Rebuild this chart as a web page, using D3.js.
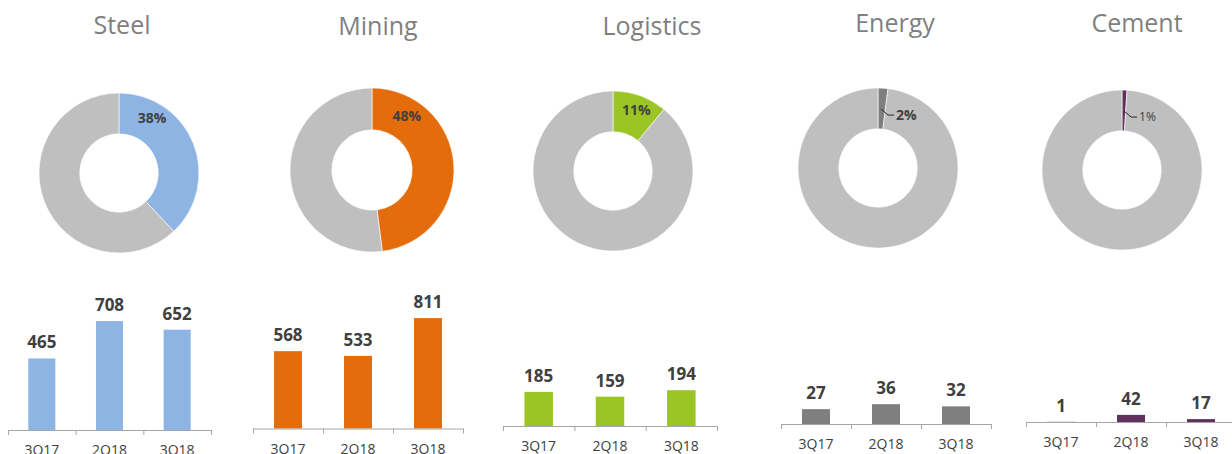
<!DOCTYPE html>
<html>
<head>
<meta charset="utf-8">
<script src="https://cdn.jsdelivr.net/npm/d3@7"></script>
<style>
    html, body { margin: 0; padding: 0; background: #fff; }
    svg { display: block; font-family: 'Open Sans', 'Noto Sans', sans-serif; }
    .title { fill: #7f7f7f; font-size: 25px; }
    .pct { fill: #404040; font-size: 14px; font-weight: bold; }
    .val { fill: #404040; font-size: 17px; font-weight: bold; }
    .cat { fill: #404040; font-size: 14px; }
    .axis-line { stroke: #a6a6a6; stroke-width: 1; }
</style>
</head>
<body>
<div id="chart"></div>
<script>
// data
const sectors = ['Steel', 'Mining', 'Logistics', 'Energy', 'Cement'];
const shares = [38, 48, 11, 2, 1];
const quarters = ['3Q17', '2Q18', '3Q18'];
const steelValues = [465, 708, 652];
const miningValues = [568, 533, 811];
const logisticsValues = [185, 159, 194];
const energyValues = [27, 36, 32];
const cementValues = [1, 42, 17];
const sectorValues = [steelValues, miningValues, logisticsValues, energyValues, cementValues];

const colors = ['#8db4e2', '#e46c0a', '#9ac524', '#7f7f7f', '#60305f'];
const restColor = '#bfbfbf';

// layout per panel (positions only)
const layout = [
    { tx: 122, ty: 34, cx: 119, cy: 173, r: 80, la: 31, lr: 64, leader: false, x0: 8, x1: 211, base: 430, yMax: 845 },
    { tx: 378, ty: 35, cx: 372, cy: 170, r: 82, la: 33, lr: 64, leader: false, x0: 253, x1: 463, base: 428.5, yMax: 955 },
    { tx: 652, ty: 35, cx: 613, cy: 171, r: 80, la: 21, lr: 65, leader: false, x0: 503, x1: 717, base: 426, yMax: 705 },
    { tx: 895, ty: 32, cx: 878, cy: 168, r: 80, la: 3, lr: 59, leader: true, x0: 781, x1: 991, base: 424, yMax: 236 },
    { tx: 1137, ty: 32, cx: 1122, cy: 170, r: 80, la: 2, lr: 59, leader: true, x0: 1026, x1: 1236, base: 422, yMax: 765 }
];

const width = 1232;
const height = 454;

const svg = d3.select('#chart')
    .append('svg')
    .attr('width', width)
    .attr('height', height);

const pie = d3.pie().sort(null).value(d => d).startAngle(0).endAngle(2 * Math.PI);

sectors.forEach((name, i) => {
    const L = layout[i];
    const g = svg.append('g').attr('class', 'panel');

    g.append('text')
        .attr('class', 'title')
        .attr('x', L.tx)
        .attr('y', L.ty)
        .attr('text-anchor', 'middle')
        .text(name);

    // donut
    const arc = d3.arc().innerRadius(L.r * 0.49).outerRadius(L.r);
    const donut = g.append('g').attr('transform', `translate(${L.cx},${L.cy})`);
    donut.selectAll('path')
        .data(pie([shares[i], 100 - shares[i]]))
        .join('path')
        .attr('d', arc)
        .attr('fill', (d, j) => j === 0 ? colors[i] : restColor)
        .attr('stroke', '#fff')
        .attr('stroke-width', 0.6);

    const a = L.la * Math.PI / 180;
    const px = Math.sin(a) * L.lr;
    const py = -Math.cos(a) * L.lr;
    if (L.leader) {
        donut.append('path')
            .attr('d', `M${px},${py}L${px + 7},${py + 6}L${px + 13},${py + 6}`)
            .attr('fill', 'none')
            .attr('stroke', '#262626')
            .attr('stroke-width', 1);
        donut.append('text')
            .attr('class', 'pct')
            .attr('x', px + 15)
            .attr('y', py + 6)
            .attr('dy', '0.35em')
            .style('font-size', i === 4 ? '12px' : '14px')
            .style('font-weight', i === 4 ? 'normal' : 'bold')
            .text(shares[i] + '%');
    } else {
        donut.append('text')
            .attr('class', 'pct')
            .attr('x', px)
            .attr('y', py)
            .attr('dy', '0.35em')
            .attr('text-anchor', 'middle')
            .text(shares[i] + '%');
    }

    // bars
    const x = d3.scaleBand()
        .domain(quarters)
        .range([L.x0, L.x1])
        .paddingInner(0.6)
        .paddingOuter(0.3);
    const y = d3.scaleLinear()
        .domain([0, L.yMax])
        .range([L.base, L.base - 130]);
    const vals = sectorValues[i];

    g.selectAll('rect.bar')
        .data(vals)
        .join('rect')
        .attr('class', 'bar')
        .attr('x', (d, j) => x(quarters[j]))
        .attr('y', d => y(d))
        .attr('width', x.bandwidth())
        .attr('height', d => y(0) - y(d))
        .attr('fill', colors[i]);

    g.selectAll('text.val')
        .data(vals)
        .join('text')
        .attr('class', 'val')
        .attr('x', (d, j) => x(quarters[j]) + x.bandwidth() / 2)
        .attr('y', d => y(d) - 10)
        .attr('text-anchor', 'middle')
        .text(d => d);

    const step = (L.x1 - L.x0) / quarters.length;
    g.append('line')
        .attr('class', 'axis-line')
        .attr('x1', L.x0).attr('x2', L.x1)
        .attr('y1', y(0) + 0.5).attr('y2', y(0) + 0.5);
    g.selectAll('line.tick')
        .data(d3.range(quarters.length + 1))
        .join('line')
        .attr('class', 'axis-line tick')
        .attr('x1', k => L.x0 + k * step + 0.5)
        .attr('x2', k => L.x0 + k * step + 0.5)
        .attr('y1', y(0))
        .attr('y2', y(0) + 5);

    g.selectAll('text.cat')
        .data(quarters)
        .join('text')
        .attr('class', 'cat')
        .attr('x', d => x(d) + x.bandwidth() / 2)
        .attr('y', y(0) + 25)
        .attr('text-anchor', 'middle')
        .text(d => d);
});
</script>
</body>
</html>
